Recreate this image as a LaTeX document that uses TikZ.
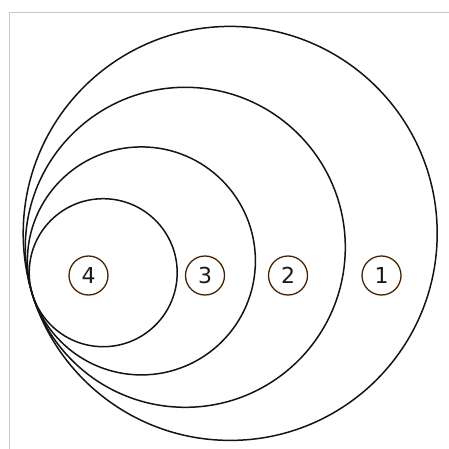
\documentclass[tikz,border=0pt]{standalone}
\usepackage{fontspec}
\setmainfont{DejaVu Sans}
\begin{document}
\begin{tikzpicture}[x=1pt,y=-1pt,
  ring/.style={circle,draw=black!92,line width=1.5pt,inner sep=0pt},
  tag/.style={circle,draw=black!72!orange,line width=1.3pt,minimum size=39pt,inner sep=0pt,font=\fontsize{22}{22}\selectfont,text=black!90}]
\useasboundingbox (0,0) rectangle (449,449);
\draw[draw=black!22,line width=1pt] (9.5,449) -- (9.5,12.3) -- (449,12.3);
\coordinate (T) at (32.5,294.5);
\node[ring,minimum size=414pt] (c1) at (230.2,233.4) {};
\node[ring,minimum size=320pt] (c2) at (185.3,247.3) {};
\node[ring,minimum size=228pt] (c3) at (141.4,260.9) {};
\node[ring,minimum size=148pt] (c4) at (103.2,272.7) {};
\node[tag] (l4) at (88.5,275.5) {4};
\node[tag] (l3) at (205,275.5) {3};
\node[tag] (l2) at (288,275.5) {2};
\node[tag] (l1) at (381.5,275.5) {1};
\end{tikzpicture}
\end{document}
